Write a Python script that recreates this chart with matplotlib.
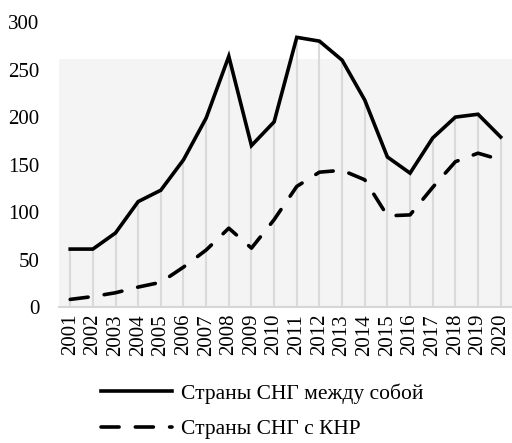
import numpy as np
import matplotlib.pyplot as plt

plt.rcParams['font.family'] = ['Liberation Serif', 'DejaVu Serif']

years = [str(y) for y in range(2001, 2021)]
cis_internal = [61, 61, 78, 111, 123, 155, 199, 264, 170, 195,
                284, 280, 260, 218, 158, 141, 178, 200, 203, 179]
cis_china = [8, 11, 15, 21, 26, 42, 60, 83, 62, 92,
             127, 142, 144, 134, 96, 97, 126, 153, 162, 155]

x = np.arange(len(years))

fig = plt.figure(figsize=(5.12, 4.43), dpi=100)
ax = fig.add_axes([0.115, 0.307, 0.885, 0.643])

# shaded plot area and drop lines
ax.axhspan(0, 261, color='#f4f4f4', zorder=0, lw=0)
ax.vlines(x, 0, cis_internal, color='#dadada', lw=1.5, zorder=1)

ax.plot(x, cis_internal, color='black', lw=2.6, solid_joinstyle='miter',
        label='Страны СНГ между собой', zorder=3)
ax.plot(x, cis_china, color='black', lw=2.6, dashes=(5, 4.5),
        dash_capstyle='round', label='Страны СНГ с КНР', zorder=3)

ax.set_xlim(-0.5, len(years) - 0.5)
ax.set_ylim(0, 300)
ax.set_yticks(range(0, 301, 50))
ax.set_xticks(x)
ax.set_xticklabels(years, rotation=90)
ax.tick_params(axis='both', length=0, labelsize=15)
ax.tick_params(axis='y', pad=14)
ax.tick_params(axis='x', pad=5)

for s in ['top', 'right', 'left']:
    ax.spines[s].set_visible(False)
ax.spines['bottom'].set_color('#d6d6d6')
ax.spines['bottom'].set_linewidth(1.5)

fig.legend(loc='upper left', bbox_to_anchor=(0.16, 0.178), frameon=False,
           fontsize=15.5, handlelength=3.3, handletextpad=0.4, labelspacing=0.7)

fig.savefig('out.png', dpi=100)
